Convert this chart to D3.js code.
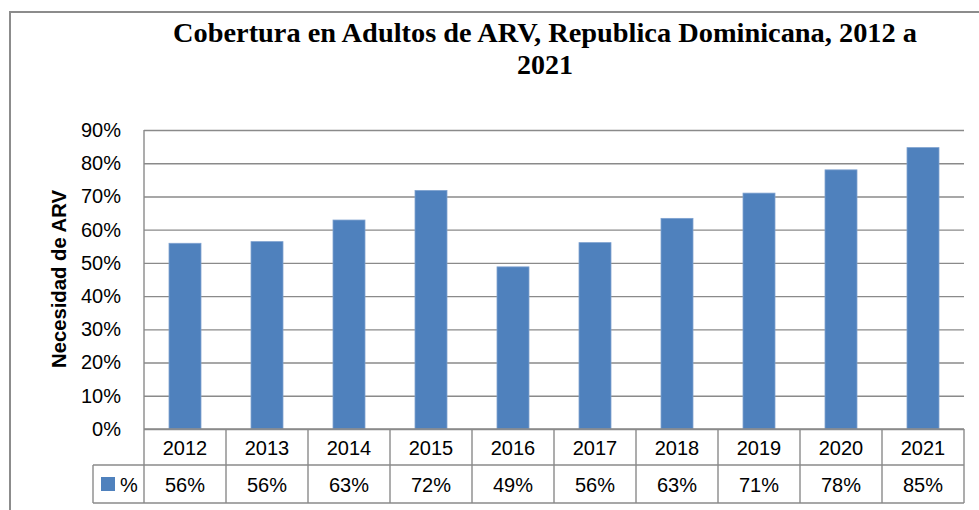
<!DOCTYPE html>
<html>
<head>
<meta charset="utf-8" />
<title>Cobertura ARV</title>
<script src="https://cdn.jsdelivr.net/npm/d3@7"></script>
<style>
  body { margin: 0; background: #fff; }
  text { font-family: "Liberation Sans", Arial, sans-serif; }
</style>
</head>
<body>
<svg width="979" height="510"></svg>
<script>
// data
var years = ["2012","2013","2014","2015","2016","2017","2018","2019","2020","2021"];
var values = [0.559, 0.564, 0.629, 0.718, 0.488, 0.561, 0.634, 0.710, 0.780, 0.847];
var yTicks = [0, 0.1, 0.2, 0.3, 0.4, 0.5, 0.6, 0.7, 0.8, 0.9];
var seriesName = "%";
var titleLines = ["Cobertura en Adultos de ARV, Republica Dominicana, 2012 a", "2021"];
var yLabel = "Necesidad de ARV";

var svg = d3.select("svg");
var marge = {left: 144, right: 964, top: 130, bottom: 429};
var row1 = 465, row2 = 503, legendLeft = 93;
var gridColor = "#8a8a8a";

// chart border
svg.append("rect")
  .attr("x", 10).attr("y", 12)
  .attr("width", 1000).attr("height", 530)
  .attr("fill", "none").attr("stroke", "#8c8c8c").attr("stroke-width", 2);

// scales
var x = d3.scaleBand().domain(years).range([marge.left, marge.right])
  .paddingInner(0.61).paddingOuter(0.305);
var cols = d3.scaleBand().domain(years).range([marge.left, marge.right]);
var y = d3.scaleLinear().domain([0, 0.9]).range([marge.bottom, marge.top]);
var fmt = d3.format(".0%");

// gridlines
var grid = svg.append("g")
  .attr("transform", "translate(" + marge.left + ",0)")
  .call(d3.axisLeft(y).tickValues(yTicks).tickSize(-(marge.right - marge.left)).tickFormat(""));
grid.select(".domain").remove();
grid.selectAll("line").attr("stroke", gridColor).attr("stroke-width", 1.4);

// tick labels
var yAxis = svg.append("g")
  .attr("transform", "translate(" + marge.left + ",0)")
  .call(d3.axisLeft(y).tickValues(yTicks).tickSize(0).tickPadding(23).tickFormat(fmt));
yAxis.select(".domain").remove();
yAxis.selectAll("text")
  .attr("font-family", "Liberation Sans, Arial, sans-serif")
  .attr("font-size", 20).attr("fill", "#000");

// bars
svg.append("g").selectAll("rect")
  .data(values)
  .enter().append("rect")
  .attr("x", function(d, i){ return x(years[i]); })
  .attr("y", function(d){ return y(d); })
  .attr("width", x.bandwidth())
  .attr("height", function(d){ return y(0) - y(d); })
  .attr("fill", "#4f81bd")
  .attr("stroke", "#7ea1cf").attr("stroke-width", 0.8);

// data table lines
var lines = svg.append("g").attr("stroke", gridColor).attr("stroke-width", 1.4);
lines.append("line").attr("x1", marge.left).attr("x2", marge.left).attr("y1", marge.top).attr("y2", row2);
lines.append("line").attr("x1", marge.left).attr("x2", marge.right).attr("y1", marge.bottom).attr("y2", marge.bottom);
lines.append("line").attr("x1", legendLeft).attr("x2", marge.right).attr("y1", row1).attr("y2", row1);
lines.append("line").attr("x1", legendLeft).attr("x2", marge.right).attr("y1", row2).attr("y2", row2);
lines.append("line").attr("x1", legendLeft).attr("x2", legendLeft).attr("y1", row1).attr("y2", row2);
lines.selectAll(".sep")
  .data(years)
  .enter().append("line")
  .attr("x1", function(d){ return cols(d) + cols.bandwidth(); })
  .attr("x2", function(d){ return cols(d) + cols.bandwidth(); })
  .attr("y1", marge.bottom).attr("y2", row2);

// table text
svg.append("g").selectAll("text")
  .data(years)
  .enter().append("text")
  .attr("x", function(d){ return cols(d) + cols.bandwidth() / 2; })
  .attr("y", 455)
  .attr("text-anchor", "middle")
  .attr("font-size", 20)
  .text(function(d){ return d; });

svg.append("g").selectAll("text")
  .data(values)
  .enter().append("text")
  .attr("x", function(d, i){ return cols(years[i]) + cols.bandwidth() / 2; })
  .attr("y", 492)
  .attr("text-anchor", "middle")
  .attr("font-size", 20)
  .text(function(d){ return fmt(d); });

// legend key
svg.append("rect").attr("x", 101).attr("y", 477).attr("width", 14).attr("height", 14).attr("fill", "#4f81bd");
svg.append("text").attr("x", 120).attr("y", 492).attr("font-size", 20).text(seriesName);

// y label
svg.append("text")
  .attr("transform", "translate(66,279) rotate(-90)")
  .attr("text-anchor", "middle")
  .attr("font-size", 20).attr("font-weight", "bold")
  .attr("textLength", 178).attr("lengthAdjust", "spacingAndGlyphs")
  .text(yLabel);

// title
var title = svg.append("g");
title.append("text")
  .attr("x", 545).attr("y", 42)
  .attr("text-anchor", "middle")
  .style("font-family", "'Liberation Serif', 'DejaVu Serif', serif")
  .attr("font-size", 28).attr("font-weight", "bold")
  .attr("textLength", 744).attr("lengthAdjust", "spacingAndGlyphs")
  .text(titleLines[0]);
title.append("text")
  .attr("x", 545).attr("y", 74)
  .attr("text-anchor", "middle")
  .style("font-family", "'Liberation Serif', 'DejaVu Serif', serif")
  .attr("font-size", 28).attr("font-weight", "bold")
  .text(titleLines[1]);
</script>
</body>
</html>
